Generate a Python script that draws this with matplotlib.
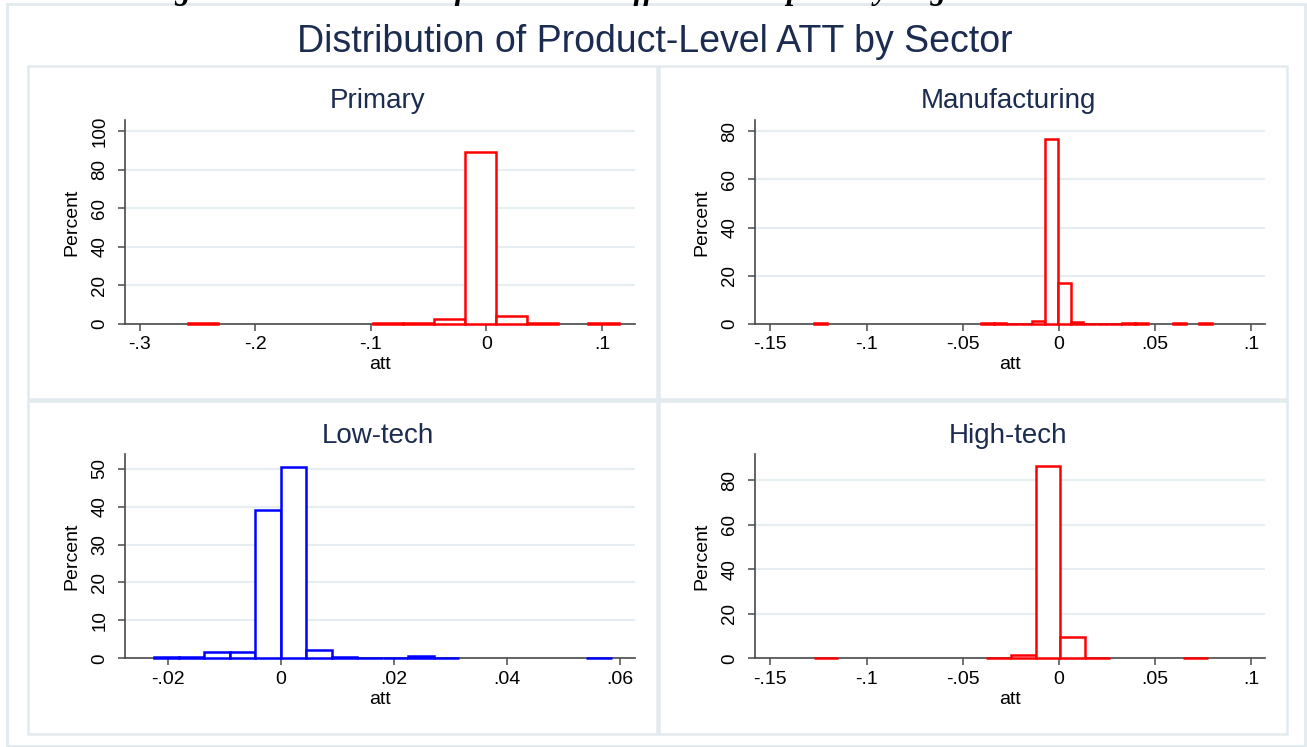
import numpy as np
import matplotlib
matplotlib.use("Agg")
import matplotlib.pyplot as plt
from matplotlib.patches import Rectangle

plt.rcParams['font.family'] = ['Liberation Sans', 'DejaVu Sans']

# histogram bins: start of first bin, bin width, percent per bin
primary_start = -0.2585
primary_width = 0.02668
primary_pct = [0.5, 0, 0, 0, 0, 0, 0.4, 0.4, 2.5, 89.0, 3.9, 0.4, 0, 0.4]

manuf_start = -0.1275
manuf_width = 0.00668
manuf_pct = [0.4, 0, 0, 0, 0, 0, 0, 0, 0, 0, 0, 0, 0,
             0.4, 0.4, 0.15, 0.15, 1.2, 76.8, 17.0, 1.0,
             0.15, 0.15, 0.2, 0.4, 0.4, 0, 0, 0.4, 0, 0.4]

lowtech_start = -0.0225
lowtech_width = 0.0045
lowtech_pct = [0.3, 0.3, 1.6, 1.6, 39.2, 50.6, 2.2, 0.3, 0.15, 0.15,
               0.7, 0.2, 0, 0, 0, 0, 0, 0.2]

hightech_start = -0.1275
hightech_width = 0.01282
hightech_pct = [0.3, 0, 0, 0, 0, 0, 0, 0.3, 1.5, 86.2, 9.6, 0.3, 0, 0, 0, 0.3]

# tick values and labels
primary_xt = [-0.3, -0.2, -0.1, 0, 0.1]
primary_xl = ['-.3', '-.2', '-.1', '0', '.1']
primary_yt = [0, 20, 40, 60, 80, 100]

wide_xt = [-0.15, -0.1, -0.05, 0, 0.05, 0.1]
wide_xl = ['-.15', '-.1', '-.05', '0', '.05', '.1']

lowtech_xt = [-0.02, 0, 0.02, 0.04, 0.06]
lowtech_xl = ['-.02', '0', '.02', '.04', '.06']
lowtech_yt = [0, 10, 20, 30, 40, 50]

manuf_yt = [0, 20, 40, 60, 80]
hightech_yt = [0, 20, 40, 60, 80]

W, H = 1307, 747
NAVY = '#1c2b50'
AXC = '#4a4a4a'
GRID = '#e6eef1'
FRAME = '#e2eaee'


def px_axes(fig, x0, x1, ytop, ybot):
    # axes placed by pixel box (y measured from the top)
    return fig.add_axes([x0 / W, (H - ybot) / H, (x1 - x0) / W, (ybot - ytop) / H])


def draw_hist(ax, start, width, pct, color, xt, xl, yt, xlim, ylim):
    pct = np.asarray(pct, dtype=float)
    left = start + width * np.arange(len(pct))
    keep = pct > 0
    bars = ax.bar(left[keep], pct[keep], width=width, align='edge',
                  facecolor='white', edgecolor=color, linewidth=1.8, zorder=3)
    for b in bars:
        b.set_clip_on(False)   # keep the bottom edge of the flat bins visible
    ax.set_xlim(*xlim)
    ax.set_ylim(*ylim)
    ax.set_xticks(xt)
    ax.set_xticklabels(xl)
    ax.set_yticks(yt)
    ax.set_yticklabels([str(v) for v in yt], rotation=90, va='center')
    for s in ['top', 'right']:
        ax.spines[s].set_visible(False)
    for s in ['left', 'bottom']:
        ax.spines[s].set_color(AXC)
        ax.spines[s].set_linewidth(1.2)
    ax.tick_params(axis='both', colors=AXC, labelcolor='black', length=5,
                   width=1.1)
    ax.tick_params(axis='x', pad=4, labelsize=14)
    ax.tick_params(axis='y', pad=7, labelsize=13.5)
    ax.yaxis.grid(True, color=GRID, linewidth=1.6, zorder=0)
    ax.set_axisbelow(True)
    ax.set_xlabel('att', fontsize=14, labelpad=2)
    ax.set_ylabel('Percent', fontsize=14, labelpad=8)


fig = plt.figure(figsize=(W / 100, H / 100), dpi=100)
fig.patch.set_facecolor('white')

# outer frame and the four cell frames
fig.patches.append(Rectangle((7 / W, 1 - 746 / H), 1298 / W, 742 / H,
                             transform=fig.transFigure, fill=False,
                             edgecolor=FRAME, linewidth=2))
for cx0, cx1 in [(28, 657), (659, 1287)]:
    for cy0, cy1 in [(66, 399), (401, 734)]:
        fig.patches.append(Rectangle((cx0 / W, 1 - cy1 / H), (cx1 - cx0) / W,
                                     (cy1 - cy0) / H, transform=fig.transFigure,
                                     fill=False, edgecolor=FRAME, linewidth=1.8))

# caption of the page, cut off at the top edge
fig.text(0.434, 1 + 1 / H, 'Figure 3: Distribution of Treatment Effects on Imports by Region',
         ha='center', va='baseline', fontsize=22.4, fontweight='bold',
         fontstyle='italic', family=['Liberation Serif', 'DejaVu Serif'])

fig.text(655 / W, 1 - 42 / H, 'Distribution of Product-Level ATT by Sector',
         ha='center', va='center', fontsize=27, color=NAVY)

ax1 = px_axes(fig, 125, 635.4, 120, 324)
draw_hist(ax1, primary_start, primary_width, primary_pct, '#ff0000',
          primary_xt, primary_xl, primary_yt, (-0.3127, 0.129), (0, 105.7))

ax2 = px_axes(fig, 755, 1265.4, 120, 324)
draw_hist(ax2, manuf_start, manuf_width, manuf_pct, '#ff0000',
          wide_xt, wide_xl, manuf_yt, (-0.158, 0.1074), (0, 84.6))

ax3 = px_axes(fig, 125, 635.4, 454, 658.3)
draw_hist(ax3, lowtech_start, lowtech_width, lowtech_pct, '#0000ff',
          lowtech_xt, lowtech_xl, lowtech_yt, (-0.02755, 0.0627), (0, 53.9))

ax4 = px_axes(fig, 755, 1265.4, 454, 658.3)
draw_hist(ax4, hightech_start, hightech_width, hightech_pct, '#ff0000',
          wide_xt, wide_xl, hightech_yt, (-0.158, 0.1074), (0, 91.7))

for name, x, y in [('Primary', 378, 101), ('Manufacturing', 1008, 101),
                   ('Low-tech', 378, 436), ('High-tech', 1008, 436)]:
    fig.text(x / W, 1 - y / H, name, ha='center', va='center',
             fontsize=20, color=NAVY)

fig.savefig('out.png', dpi=100, facecolor='white')
